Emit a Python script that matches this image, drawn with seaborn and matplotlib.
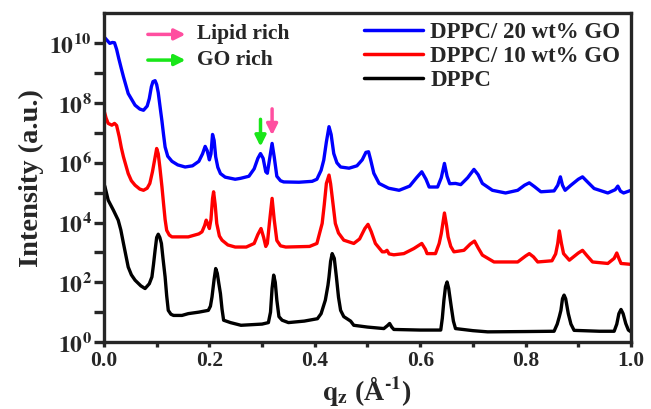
import numpy as np
import pandas as pd
import matplotlib
matplotlib.use("Agg")
import matplotlib.pyplot as plt
import seaborn as sns

# ---------------- data ----------------
series_names = ["DPPC/ 20 wt% GO", "DPPC/ 10 wt% GO", "DPPC"]
series_colors = ["#0000FF", "#FF0000", "#000000"]

go20_q = [0.000, 0.006, 0.011, 0.016, 0.020, 0.024, 0.028, 0.033, 0.037, 0.046,
          0.059, 0.068, 0.075, 0.082, 0.086, 0.090, 0.093, 0.097, 0.100, 0.103,
          0.107, 0.110, 0.113, 0.116, 0.121, 0.129, 0.140, 0.154, 0.168, 0.180,
          0.187, 0.192, 0.196, 0.200, 0.203, 0.206, 0.209, 0.212, 0.216, 0.221,
          0.230, 0.249, 0.259, 0.275, 0.285, 0.292, 0.297, 0.302, 0.307, 0.310,
          0.314, 0.319, 0.323, 0.328, 0.335, 0.341, 0.370, 0.395, 0.404, 0.412,
          0.417, 0.422, 0.427, 0.431, 0.436, 0.442, 0.449, 0.465, 0.480, 0.490,
          0.497, 0.502, 0.506, 0.512, 0.522, 0.540, 0.560, 0.580, 0.593, 0.603,
          0.611, 0.617, 0.633, 0.640, 0.646, 0.651, 0.656, 0.667, 0.677, 0.690,
          0.702, 0.710, 0.718, 0.737, 0.762, 0.785, 0.798, 0.807, 0.817, 0.829,
          0.854, 0.861, 0.866, 0.870, 0.875, 0.886, 0.900, 0.908, 0.918, 0.930,
          0.956, 0.970, 0.975, 0.980, 0.986, 1.000]
go20_log_i = [10.22, 10.10, 10.00, 10.03, 10.02, 9.80, 9.50, 9.15, 8.88, 8.32,
              7.93, 7.80, 7.76, 7.90, 8.15, 8.55, 8.72, 8.75, 8.62, 8.35,
              7.80, 7.40, 6.95, 6.53, 6.22, 6.05, 5.93, 5.86, 5.90, 6.05,
              6.30, 6.55, 6.40, 6.10, 6.30, 6.95, 6.75, 6.20, 5.85, 5.64,
              5.52, 5.45, 5.48, 5.55, 5.80, 6.15, 6.31, 6.15, 5.70, 5.65,
              6.10, 6.65, 6.20, 5.55, 5.40, 5.36, 5.35, 5.38, 5.45, 5.75,
              6.09, 6.70, 7.21, 6.95, 6.31, 6.00, 5.86, 5.82, 5.90, 6.10,
              6.35, 6.37, 6.10, 5.65, 5.31, 5.15, 5.08, 5.22, 5.50, 5.70,
              5.45, 5.19, 5.19, 5.50, 5.98, 5.55, 5.30, 5.31, 5.27, 5.50,
              5.78, 5.60, 5.31, 5.08, 4.99, 5.08, 5.25, 5.33, 5.20, 5.03,
              5.06, 5.25, 5.53, 5.25, 5.08, 5.25, 5.45, 5.53, 5.35, 5.14,
              4.99, 5.10, 5.22, 5.05, 4.99, 5.08]

go10_q = [0.000, 0.004, 0.008, 0.015, 0.020, 0.024, 0.029, 0.033, 0.037, 0.046,
          0.052, 0.059, 0.068, 0.075, 0.082, 0.087, 0.092, 0.096, 0.100, 0.103,
          0.106, 0.110, 0.113, 0.116, 0.119, 0.124, 0.129, 0.160, 0.180, 0.186,
          0.191, 0.194, 0.197, 0.200, 0.203, 0.206, 0.208, 0.211, 0.214, 0.219,
          0.224, 0.235, 0.249, 0.270, 0.285, 0.292, 0.298, 0.303, 0.307, 0.310,
          0.314, 0.319, 0.323, 0.328, 0.335, 0.345, 0.390, 0.404, 0.414, 0.418,
          0.422, 0.427, 0.430, 0.433, 0.439, 0.445, 0.455, 0.474, 0.485, 0.495,
          0.501, 0.507, 0.515, 0.528, 0.533, 0.537, 0.541, 0.550, 0.569, 0.588,
          0.603, 0.610, 0.613, 0.629, 0.636, 0.640, 0.646, 0.650, 0.653, 0.658,
          0.664, 0.683, 0.695, 0.703, 0.710, 0.718, 0.740, 0.785, 0.800, 0.807,
          0.815, 0.823, 0.850, 0.857, 0.861, 0.864, 0.868, 0.872, 0.883, 0.900,
          0.908, 0.916, 0.927, 0.956, 0.968, 0.973, 0.977, 0.981, 1.000]
go10_log_i = [7.76, 7.50, 7.32, 7.26, 7.32, 7.25, 6.87, 6.50, 6.20, 5.64,
              5.40, 5.25, 5.12, 5.08, 5.15, 5.31, 5.70, 6.09, 6.48, 6.30,
              5.86, 5.20, 4.64, 4.10, 3.74, 3.58, 3.52, 3.52, 3.62, 3.69,
              3.90, 4.08, 3.95, 3.80, 4.10, 4.80, 5.03, 4.60, 3.97, 3.55,
              3.41, 3.25, 3.18, 3.18, 3.30, 3.60, 3.80, 3.50, 3.20, 3.30,
              4.00, 4.81, 4.10, 3.40, 3.22, 3.18, 3.20, 3.30, 3.97, 4.60,
              5.31, 5.59, 5.30, 4.86, 3.97, 3.65, 3.41, 3.30, 3.45, 3.80,
              3.94, 3.70, 3.30, 3.02, 3.02, 3.07, 2.95, 2.92, 2.96, 3.13,
              3.30, 3.10, 2.96, 2.96, 3.30, 3.63, 4.32, 3.90, 3.52, 3.20,
              3.02, 3.07, 3.28, 3.38, 3.15, 2.91, 2.68, 2.68, 2.88, 2.96,
              2.85, 2.68, 2.72, 2.95, 3.30, 3.72, 3.30, 2.96, 2.74, 2.98,
              3.07, 2.90, 2.68, 2.63, 2.80, 2.98, 2.80, 2.63, 2.60]

dppc_q = [0.000, 0.002, 0.008, 0.018, 0.027, 0.032, 0.037, 0.046, 0.052, 0.059,
          0.070, 0.078, 0.086, 0.091, 0.094, 0.097, 0.100, 0.103, 0.106, 0.109,
          0.112, 0.116, 0.119, 0.122, 0.127, 0.132, 0.148, 0.160, 0.180, 0.198,
          0.202, 0.205, 0.209, 0.212, 0.215, 0.218, 0.221, 0.224, 0.227, 0.240,
          0.260, 0.300, 0.312, 0.316, 0.319, 0.322, 0.325, 0.328, 0.332, 0.338,
          0.350, 0.380, 0.405, 0.412, 0.420, 0.425, 0.427, 0.430, 0.433, 0.437,
          0.441, 0.445, 0.449, 0.455, 0.468, 0.474, 0.500, 0.531, 0.538, 0.542,
          0.546, 0.550, 0.600, 0.639, 0.642, 0.645, 0.648, 0.651, 0.654, 0.659,
          0.663, 0.667, 0.700, 0.728, 0.800, 0.854, 0.860, 0.864, 0.867, 0.870,
          0.873, 0.876, 0.881, 0.886, 0.892, 0.940, 0.968, 0.973, 0.977, 0.981,
          0.985, 0.990, 0.995, 1.000]
dppc_log_i = [5.30, 5.19, 4.75, 4.41, 4.08, 3.75, 3.30, 2.51, 2.25, 2.07,
              1.88, 1.79, 1.95, 2.18, 2.60, 3.07, 3.50, 3.61, 3.50, 3.30,
              2.80, 2.18, 1.55, 1.06, 0.93, 0.89, 0.89, 0.95, 1.00, 1.06,
              1.20, 1.51, 2.10, 2.46, 2.30, 1.95, 1.62, 1.10, 0.73, 0.65,
              0.56, 0.60, 0.65, 1.00, 1.80, 2.24, 2.00, 1.40, 0.85, 0.73,
              0.65, 0.70, 0.78, 0.95, 1.40, 1.90, 2.18, 2.70, 2.96, 2.80,
              2.18, 1.50, 1.06, 0.85, 0.70, 0.56, 0.50, 0.45, 0.55, 0.62,
              0.50, 0.42, 0.40, 0.40, 0.80, 1.40, 1.85, 2.01, 1.80, 1.17,
              0.70, 0.45, 0.38, 0.34, 0.35, 0.36, 0.60, 0.85, 1.06, 1.45,
              1.57, 1.45, 0.95, 0.60, 0.39, 0.36, 0.36, 0.60, 0.95, 1.09,
              0.95, 0.62, 0.40, 0.34]

xtick_values = [0.0, 0.1, 0.2, 0.3, 0.4, 0.5, 0.6, 0.7, 0.8, 0.9, 1.0]
xtick_labels = ["0.0", "", "0.2", "", "0.4", "", "0.6", "", "0.8", "", "1.0"]
ytick_exponents = [0, 1, 2, 3, 4, 5, 6, 7, 8, 9, 10]
ytick_labels = [r"$\mathbf{10^{%d}}$" % e if e % 2 == 0 else "" for e in ytick_exponents]

# ---------------- style ----------------
sns.set_style("ticks")
plt.rcParams["font.family"] = ["Liberation Serif", "DejaVu Serif"]
plt.rcParams["font.weight"] = "bold"
plt.rcParams["mathtext.fontset"] = "stix"
plt.rcParams["axes.linewidth"] = 2.4

fig = plt.figure(figsize=(6.51, 4.09), dpi=100)
ax = fig.add_axes([0.1597, 0.1638, 0.8096, 0.8032])

frames = []
for name, q, li in [(series_names[2], dppc_q, dppc_log_i),
                    (series_names[1], go10_q, go10_log_i),
                    (series_names[0], go20_q, go20_log_i)]:
    frames.append(pd.DataFrame({"q": q, "I": np.power(10.0, li), "sample": name}))
df = pd.concat(frames, ignore_index=True)

palette = dict(zip(series_names, series_colors))
sns.lineplot(data=df, x="q", y="I", hue="sample", hue_order=series_names,
             palette=palette, estimator=None, sort=False, linewidth=2.4, ax=ax)

ax.set_yscale("log")
ax.set_xlim(0, 1.0)
ax.set_ylim(1, 1e11)
ax.set_yticks([10.0 ** e for e in ytick_exponents])
ax.set_yticklabels(ytick_labels)
ax.yaxis.set_minor_locator(matplotlib.ticker.NullLocator())
ax.set_xticks(xtick_values)
ax.set_xticklabels(xtick_labels)
ax.tick_params(axis="y", direction="out", length=7, width=2.4, labelsize=17, pad=2)
ax.tick_params(axis="x", direction="out", length=3.5, width=2.4, labelsize=15.5, pad=3)
for lab in ax.get_xticklabels():
    lab.set_fontweight("bold")

ax.set_xlabel("$\\mathbf{q_z}$ (Å$^{\\mathbf{\u2010}\\mathbf{1}}$)", fontsize=20,
              fontweight="bold", labelpad=2)
ax.set_ylabel("Intensity (a.u.)", fontsize=20.5, fontweight="bold", labelpad=4)

for side in ["top", "right", "left", "bottom"]:
    ax.spines[side].set_visible(True)
    ax.spines[side].set_linewidth(2.4)

leg = ax.legend(loc="upper right", bbox_to_anchor=(0.995, 1.0), frameon=False,
                prop={"family": "Liberation Serif", "weight": "bold", "size": 16.5},
                handlelength=2.6, handletextpad=0.3, labelspacing=0.14,
                borderaxespad=0.15, borderpad=0.2)
for line in leg.get_lines():
    line.set_linewidth(2.5)

pink = "#FF4FA0"
green = "#19E619"
ax.annotate("", xy=(0.160, 10 ** 10.3), xytext=(0.078, 10 ** 10.3),
            arrowprops=dict(arrowstyle="-|>", color=pink, lw=2.5, mutation_scale=16))
ax.annotate("", xy=(0.160, 10 ** 9.44), xytext=(0.078, 10 ** 9.44),
            arrowprops=dict(arrowstyle="-|>", color=green, lw=2.5, mutation_scale=16))
ax.text(0.177, 10 ** 10.3, "Lipid rich", fontsize=15.5, fontweight="bold", va="center", ha="left")
ax.text(0.177, 10 ** 9.44, "GO rich", fontsize=15.5, fontweight="bold", va="center", ha="left")
ax.annotate("", xy=(0.319, 10 ** 6.83), xytext=(0.319, 10 ** 7.9),
            arrowprops=dict(arrowstyle="-|>", color=pink, lw=2.5, mutation_scale=16))
ax.annotate("", xy=(0.297, 10 ** 6.45), xytext=(0.297, 10 ** 7.55),
            arrowprops=dict(arrowstyle="-|>", color=green, lw=2.5, mutation_scale=16))

fig.savefig("out.png", dpi=100)
